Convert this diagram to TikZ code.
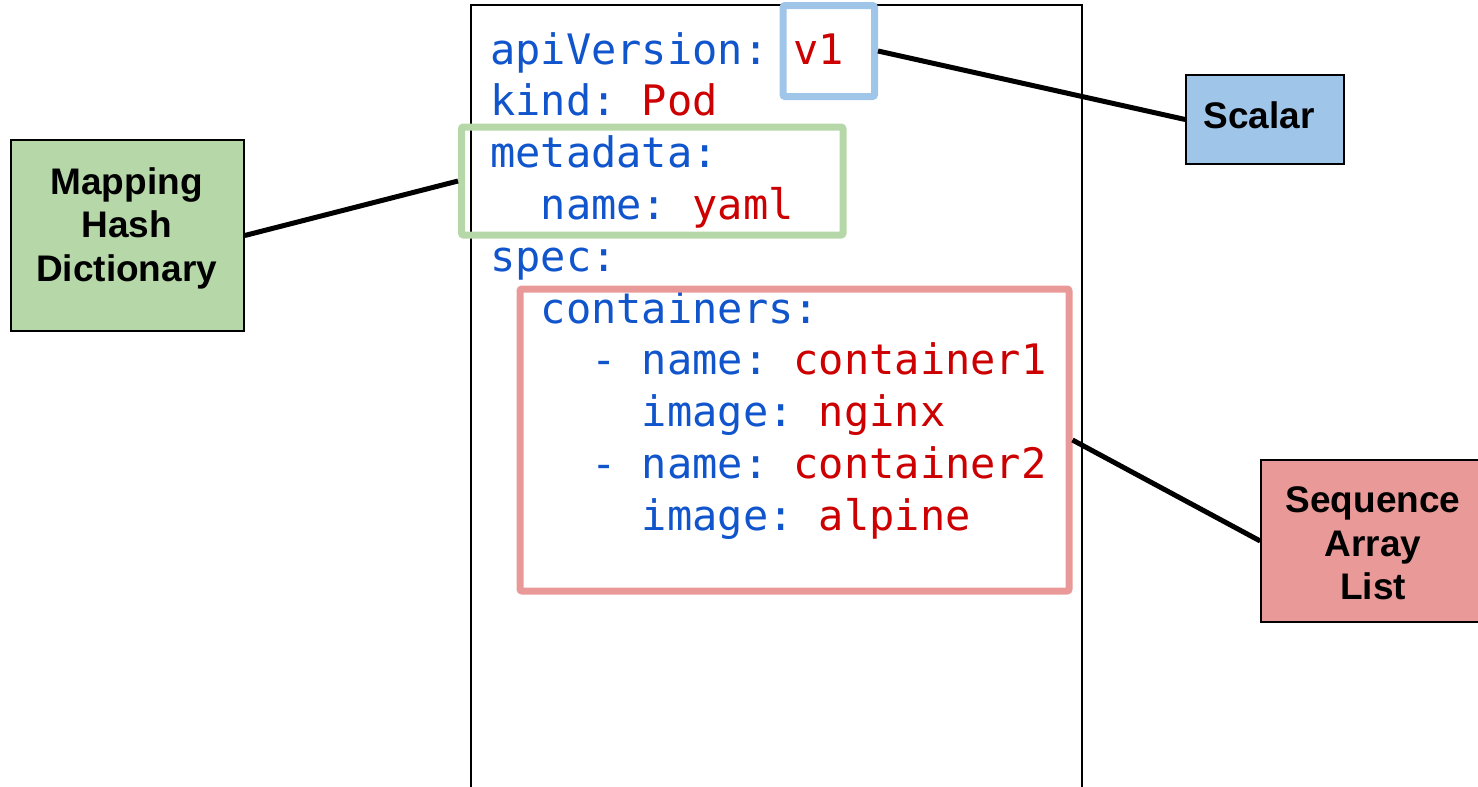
\documentclass[tikz,border=0pt]{standalone}
\usepackage{fontspec}
\setmainfont{Liberation Sans}
\newfontfamily\codefont{DejaVu Sans Mono}
\definecolor{codeblue}{HTML}{1155CC}
\definecolor{codered}{HTML}{CC0000}
\definecolor{gfill}{HTML}{B6D7A8}
\definecolor{bfill}{HTML}{9FC5E8}
\definecolor{rfill}{HTML}{EA9999}
\newcommand{\K}[1]{\textcolor{codeblue}{#1}}
\newcommand{\V}[1]{\textcolor{codered}{#1}}
\begin{document}
\begin{tikzpicture}[x=1pt,y=-1pt,
  codeline/.style={anchor=base west, inner sep=0pt, font=\codefont\fontsize{42}{50}\selectfont\frenchspacing},
  hilite/.style={draw=#1, line width=7pt, rounded corners=2pt, inner sep=0pt},
  labelbox/.style={draw=black, line width=1.6pt, fill=#1, inner sep=0pt},
  labeltext/.style={anchor=base, inner sep=0pt, font=\bfseries\fontsize{37}{43.5}\selectfont},
  connector/.style={draw=black, line width=5pt}]
\useasboundingbox (0,0) rectangle (1478,787);
% main document frame
\draw[line width=1.6pt] (471,787.5) -- (471,5) -- (1082,5) -- (1082,787.5);
% code lines
\def\cw{25.28}
\node[codeline] (l1) at (490,64) {\K{apiVersion:} \V{v1}};
\node[codeline] (l2) at (490,115.8) {\K{kind:} \V{Pod}};
\node[codeline] (l3) at (490,167.6) {\K{metadata:}};
\node[codeline] (l4) at (490+2*\cw,219.4) {\K{name:} \V{yaml}};
\node[codeline] (l5) at (490,271.2) {\K{spec:}};
\node[codeline] (l6) at (490+2*\cw,323) {\K{containers:}};
\node[codeline] (l7) at (490+4*\cw,374.8) {\K{- name:} \V{container1}};
\node[codeline] (l8) at (490+6*\cw,426.6) {\K{image:} \V{nginx}};
\node[codeline] (l9) at (490+4*\cw,478.4) {\K{- name:} \V{container2}};
\node[codeline] (l10) at (490+6*\cw,530.2) {\K{image:} \V{alpine}};
% highlight frames
\node[hilite=bfill, minimum width=91.5pt, minimum height=91pt] (hv1) at (828.75,51) {};
\node[hilite=gfill, minimum width=381.5pt, minimum height=108pt] (hmeta) at (652.25,181) {};
\node[hilite=rfill, minimum width=549pt, minimum height=302pt] (hcont) at (794.5,440) {};
% label boxes
\node[labelbox=gfill, minimum width=233pt, minimum height=191pt] (mapping) at (127.5,235.5) {};
\node[labelbox=bfill, minimum width=158pt, minimum height=89pt] (scalar) at (1265,119.5) {};
\node[labelbox=rfill, minimum width=219pt, minimum height=162pt] (sequence) at (1370.5,541) {};
\node[labeltext] (mappingtext) at (126.6,194) {\begin{tabular}[t]{@{}c@{}}Mapping\\Hash\\Dictionary\end{tabular}};
\node[labeltext] (scalartext) at (1259,128) {Scalar};
\node[labeltext] (sequencetext) at (1373,512.5) {\begin{tabular}[t]{@{}c@{}}Sequence\\Array\\List\end{tabular}};
% connectors
\draw[connector] (hv1.east) -- (scalar.west);
\draw[connector] (hmeta.west) -- (mapping.east);
\draw[connector] (hcont.east) -- (sequence.west);
\end{tikzpicture}
\end{document}
